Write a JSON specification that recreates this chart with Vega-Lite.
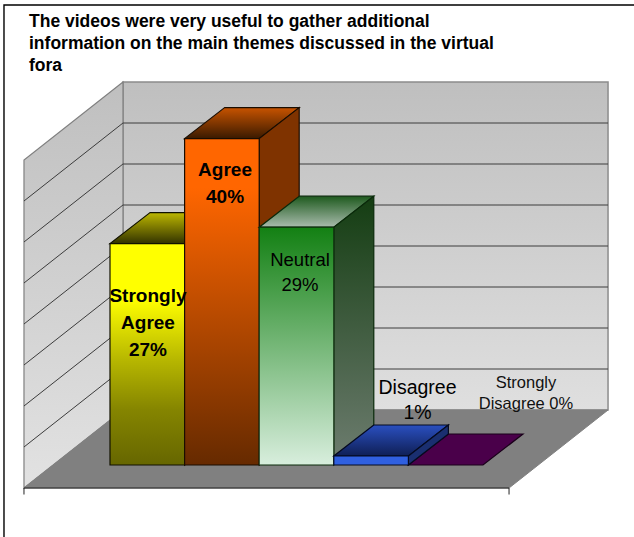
{"$schema":"https://vega.github.io/schema/vega-lite/v6.json","width":634,"height":537,"autosize":"none","padding":0,"background":"white","view":{"stroke":null},
"title":{"text":["The videos were very useful to gather additional","information on the main themes discussed in the virtual","fora"],"anchor":"start","frame":"group","baseline":"alphabetic","dx":29,"dy":88,"offset":0,"font":"Liberation Sans","fontSize":17.5,"fontWeight":"bold","lineHeight":22,"color":"#000000"},
"datasets":{
"frame":[{"x":-1.421,"x2":7.4,"y":56.1,"y2":-10}],
"backWall":[{"x":0.174,"x2":6.676,"y":6.707,"y2":46.707}],
"leftWall":[{"x":-1.153,"y":-2.805,"y2":37.195},{"x":0.174,"y":6.707,"y2":46.707}],
"floor":[{"y":-2.805,"x":-1.153,"x2":5.349},{"y":6.707,"x":0.174,"x2":6.676}],
"grid":[
{"x":0.174,"x2":6.676,"y":11.707,"y2":11.707},{"x":0.174,"x2":6.676,"y":16.707,"y2":16.707},{"x":0.174,"x2":6.676,"y":21.707,"y2":21.707},{"x":0.174,"x2":6.676,"y":26.707,"y2":26.707},{"x":0.174,"x2":6.676,"y":31.707,"y2":31.707},{"x":0.174,"x2":6.676,"y":36.707,"y2":36.707},{"x":0.174,"x2":6.676,"y":41.707,"y2":41.707},
{"x":-1.153,"x2":0.174,"y":2.195,"y2":11.707},{"x":-1.153,"x2":0.174,"y":7.195,"y2":16.707},{"x":-1.153,"x2":0.174,"y":12.195,"y2":21.707},{"x":-1.153,"x2":0.174,"y":17.195,"y2":26.707},{"x":-1.153,"x2":0.174,"y":22.195,"y2":31.707},{"x":-1.153,"x2":0.174,"y":27.195,"y2":36.707},{"x":-1.153,"x2":0.174,"y":32.195,"y2":41.707}],
"axisLine":[{"x":-1.153,"x2":5.349,"y":-2.805,"y2":-2.805},{"x":-1.153,"x2":-1.153,"y":-2.805,"y2":-3.6},{"x":5.349,"x2":5.349,"y":-2.805,"y2":-3.6}],
"faces":[
{"id":"SA_top","y":27,"x":0,"x2":1},{"id":"SA_top","y":30.78,"x":0.536,"x2":1.536},
{"id":"SA_side","x":1,"y":0,"y2":27},{"id":"SA_side","x":1.536,"y":3.78,"y2":30.78},
{"id":"SA_front","x":0,"x2":1,"y":0,"y2":27},
{"id":"A_top","y":39.8,"x":1,"x2":2},{"id":"A_top","y":43.58,"x":1.536,"x2":2.536},
{"id":"A_side","x":2,"y":0,"y2":39.8},{"id":"A_side","x":2.536,"y":3.78,"y2":43.58},
{"id":"A_front","x":1,"x2":2,"y":0,"y2":39.8},
{"id":"N_top","y":29,"x":2,"x2":3},{"id":"N_top","y":32.78,"x":2.536,"x2":3.536},
{"id":"N_side","x":3,"y":0,"y2":29},{"id":"N_side","x":3.536,"y":3.78,"y2":32.78},
{"id":"N_front","x":2,"x2":3,"y":0,"y2":29},
{"id":"SD_top","y":0,"x":4,"x2":5},{"id":"SD_top","y":3.78,"x":4.536,"x2":5.536},
{"id":"D_top","y":1.1,"x":3,"x2":4},{"id":"D_top","y":4.88,"x":3.536,"x2":4.536},
{"id":"D_side","x":4,"y":0,"y2":1.1},{"id":"D_side","x":4.536,"y":3.78,"y2":4.88},
{"id":"D_front","x":3,"x2":4,"y":0,"y2":1.1}],
"labels":[
{"id":"SA","label":"Strongly\nAgree\n27%","x":0.509,"y":19.88},
{"id":"A","label":"Agree\n40%","x":1.542,"y":35.24},
{"id":"N","label":"Neutral\n29%","x":2.547,"y":24.27},
{"id":"D","label":"Disagree\n1%","x":4.122,"y":8.66},
{"id":"SD","label":"Strongly\nDisagree 0%","x":5.576,"y":9.39}]
},
"encoding":{
"x":{"field":"x","type":"quantitative","axis":null,"scale":{"domain":[-1.4745,7.024],"nice":false,"zero":false}},
"y":{"field":"y","type":"quantitative","axis":null,"scale":{"domain":[-8.78,56.707],"nice":false,"zero":false}}
},
"layer":[
{"data":{"name":"frame"},"mark":{"type":"rect","fill":"white","stroke":"#000000","strokeWidth":1.4},"encoding":{"x2":{"field":"x2"},"y2":{"field":"y2"}}},
{"data":{"name":"backWall"},"mark":{"type":"rect","stroke":"#8c8c8c","strokeWidth":1.5,"color":{"gradient":"linear","x1":0,"y1":0,"x2":0,"y2":1,"stops":[{"offset":0,"color":"#bfbfbf"},{"offset":1,"color":"#dfdfdf"}]}},"encoding":{"x2":{"field":"x2"},"y2":{"field":"y2"}}},
{"data":{"name":"leftWall"},"mark":{"type":"area","stroke":"#808080","strokeWidth":1.2,"color":{"gradient":"linear","x1":0,"y1":0,"x2":0,"y2":1,"stops":[{"offset":0,"color":"#bfbfbf"},{"offset":1,"color":"#e2e2e2"}]}},"encoding":{"y2":{"field":"y2"}}},
{"data":{"name":"floor"},"mark":{"type":"area","orient":"horizontal","color":"#808080","stroke":"#808080"},"encoding":{"x2":{"field":"x2"}}},
{"data":{"name":"grid"},"mark":{"type":"rule","color":"#3c3c3c","strokeWidth":1},"encoding":{"x2":{"field":"x2"},"y2":{"field":"y2"}}},
{"data":{"name":"axisLine"},"mark":{"type":"rule","color":"#222222","strokeWidth":1},"encoding":{"x2":{"field":"x2"},"y2":{"field":"y2"}}},

{"data":{"name":"faces"},"transform":[{"filter":"datum.id==='SA_top'"}],"mark":{"type":"area","orient":"horizontal","stroke":"#111100","strokeWidth":1.2,"color":{"gradient":"linear","x1":0,"y1":0,"x2":0,"y2":1,"stops":[{"offset":0,"color":"#bdb700"},{"offset":1,"color":"#333300"}]}},"encoding":{"x2":{"field":"x2"}}},
{"data":{"name":"faces"},"transform":[{"filter":"datum.id==='SA_side'"}],"mark":{"type":"area","stroke":"#111100","strokeWidth":1.2,"color":"#5c5c00"},"encoding":{"y2":{"field":"y2"}}},
{"data":{"name":"faces"},"transform":[{"filter":"datum.id==='SA_front'"}],"mark":{"type":"rect","stroke":"#111100","strokeWidth":1.2,"color":{"gradient":"linear","x1":0,"y1":0,"x2":0,"y2":1,"stops":[{"offset":0,"color":"#ffff00"},{"offset":0.25,"color":"#ffff00"},{"offset":0.52,"color":"#b8b800"},{"offset":0.75,"color":"#858500"},{"offset":1,"color":"#666600"}]}},"encoding":{"x2":{"field":"x2"},"y2":{"field":"y2"}}},

{"data":{"name":"faces"},"transform":[{"filter":"datum.id==='A_top'"}],"mark":{"type":"area","orient":"horizontal","stroke":"#1a0d00","strokeWidth":1.2,"color":{"gradient":"linear","x1":0,"y1":0,"x2":0,"y2":1,"stops":[{"offset":0,"color":"#c75300"},{"offset":1,"color":"#3a1a00"}]}},"encoding":{"x2":{"field":"x2"}}},
{"data":{"name":"faces"},"transform":[{"filter":"datum.id==='A_side'"}],"mark":{"type":"area","stroke":"#1a0d00","strokeWidth":1.2,"color":"#7f3300"},"encoding":{"y2":{"field":"y2"}}},
{"data":{"name":"faces"},"transform":[{"filter":"datum.id==='A_front'"}],"mark":{"type":"rect","stroke":"#1a0d00","strokeWidth":1.2,"color":{"gradient":"linear","x1":0,"y1":0,"x2":0,"y2":1,"stops":[{"offset":0,"color":"#ff6600"},{"offset":0.15,"color":"#ff6600"},{"offset":1,"color":"#662a00"}]}},"encoding":{"x2":{"field":"x2"},"y2":{"field":"y2"}}},

{"data":{"name":"faces"},"transform":[{"filter":"datum.id==='N_top'"}],"mark":{"type":"area","orient":"horizontal","stroke":"#0a2a0a","strokeWidth":1.2,"color":{"gradient":"linear","x1":0,"y1":0,"x2":0,"y2":1,"stops":[{"offset":0,"color":"#1e5a1e"},{"offset":1,"color":"#aabcae"}]}},"encoding":{"x2":{"field":"x2"}}},
{"data":{"name":"faces"},"transform":[{"filter":"datum.id==='N_side'"}],"mark":{"type":"area","stroke":"#0a2a0a","strokeWidth":1.2,"color":{"gradient":"linear","x1":0,"y1":0,"x2":0,"y2":1,"stops":[{"offset":0,"color":"#143d12"},{"offset":1,"color":"#6e7d70"}]}},"encoding":{"y2":{"field":"y2"}}},
{"data":{"name":"faces"},"transform":[{"filter":"datum.id==='N_front'"}],"mark":{"type":"rect","stroke":"#0a2a0a","strokeWidth":1,"color":{"gradient":"linear","x1":0,"y1":0,"x2":0,"y2":1,"stops":[{"offset":0,"color":"#138013"},{"offset":1,"color":"#d8eedd"}]}},"encoding":{"x2":{"field":"x2"},"y2":{"field":"y2"}}},

{"data":{"name":"faces"},"transform":[{"filter":"datum.id==='SD_top'"}],"mark":{"type":"area","orient":"horizontal","stroke":"#1a001a","strokeWidth":1.2,"color":"#4a004a"},"encoding":{"x2":{"field":"x2"}}},

{"data":{"name":"faces"},"transform":[{"filter":"datum.id==='D_top'"}],"mark":{"type":"area","orient":"horizontal","stroke":"#050a20","strokeWidth":1.2,"color":{"gradient":"linear","x1":0,"y1":0,"x2":0,"y2":1,"stops":[{"offset":0,"color":"#2a4fc0"},{"offset":1,"color":"#0f1f55"}]}},"encoding":{"x2":{"field":"x2"}}},
{"data":{"name":"faces"},"transform":[{"filter":"datum.id==='D_side'"}],"mark":{"type":"area","stroke":"#050a20","strokeWidth":1.2,"color":"#1a2f70"},"encoding":{"y2":{"field":"y2"}}},
{"data":{"name":"faces"},"transform":[{"filter":"datum.id==='D_front'"}],"mark":{"type":"rect","stroke":"#050a20","strokeWidth":1.2,"color":"#3060e0"},"encoding":{"x2":{"field":"x2"},"y2":{"field":"y2"}}},

{"data":{"name":"labels"},"transform":[{"filter":"datum.id==='SA'||datum.id==='A'"}],"mark":{"type":"text","font":"Liberation Sans","fontWeight":"bold","fontSize":19,"lineHeight":27,"lineBreak":"\n","baseline":"alphabetic","align":"center","color":"#000000"},"encoding":{"text":{"field":"label"}}},
{"data":{"name":"labels"},"transform":[{"filter":"datum.id==='N'"}],"mark":{"type":"text","font":"Liberation Sans","fontSize":18.5,"lineHeight":25,"lineBreak":"\n","baseline":"alphabetic","align":"center","color":"#000000"},"encoding":{"text":{"field":"label"}}},
{"data":{"name":"labels"},"transform":[{"filter":"datum.id==='D'"}],"mark":{"type":"text","font":"Liberation Sans","fontSize":19.5,"lineHeight":25,"lineBreak":"\n","baseline":"alphabetic","align":"center","color":"#000000"},"encoding":{"text":{"field":"label"}}},
{"data":{"name":"labels"},"transform":[{"filter":"datum.id==='SD'"}],"mark":{"type":"text","font":"Liberation Sans","fontSize":16.5,"lineHeight":21,"lineBreak":"\n","baseline":"alphabetic","align":"center","color":"#111111"},"encoding":{"text":{"field":"label"}}}
]}
